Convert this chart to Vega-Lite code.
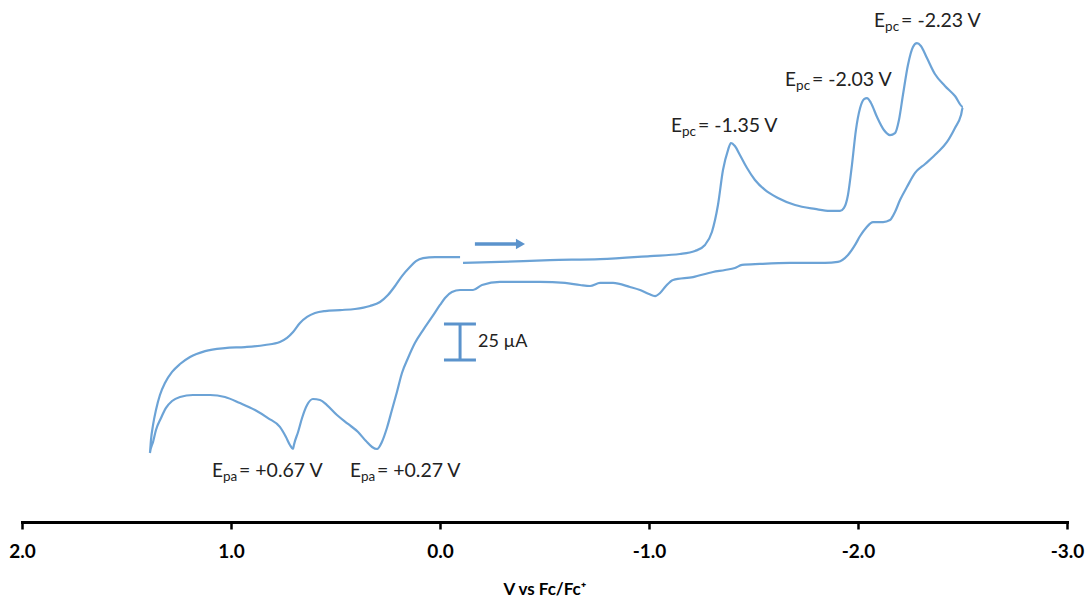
{
  "$schema": "https://vega.github.io/schema/vega-lite/v6.json",
  "autosize": {"type": "none"},
  "width": 1045,
  "height": 522,
  "padding": {"left": 22, "top": 0, "right": 19, "bottom": 76},
  "background": "white",
  "config": {"view": {"stroke": null}, "font": "Lato"},
  "datasets": {
    "cv": [
      {"k":1,"potential":-0.110,"current":179.9},{"k":2,"potential":-0.287,"current":180.6},{"k":3,"potential":-0.526,"current":181.9},{"k":4,"potential":-0.766,"current":182.6},{"k":5,"potential":-1.005,"current":184.7},{"k":6,"potential":-1.148,"current":186.1},{"k":7,"potential":-1.220,"current":188.2},{"k":8,"potential":-1.268,"current":192.4},{"k":9,"potential":-1.301,"current":201.4},{"k":10,"potential":-1.330,"current":220.1},{"k":11,"potential":-1.354,"current":244.4},{"k":12,"potential":-1.378,"current":258.3},{"k":13,"potential":-1.392,"current":263.2},{"k":14,"potential":-1.411,"current":261.1},{"k":15,"potential":-1.435,"current":254.9},{"k":16,"potential":-1.469,"current":245.8},{"k":17,"potential":-1.507,"current":237.5},{"k":18,"potential":-1.555,"current":230.6},{"k":19,"potential":-1.617,"current":225.0},{"k":20,"potential":-1.699,"current":220.1},{"k":21,"potential":-1.794,"current":217.4},{"k":22,"potential":-1.866,"current":216.0},{"k":23,"potential":-1.914,"current":216.0},{"k":24,"potential":-1.933,"current":218.1},{"k":25,"potential":-1.952,"current":227.1},{"k":26,"potential":-1.971,"current":247.9},{"k":27,"potential":-1.990,"current":272.2},{"k":28,"potential":-2.010,"current":287.5},{"k":29,"potential":-2.029,"current":293.7},{"k":30,"potential":-2.043,"current":294.4},{"k":31,"potential":-2.062,"current":291.0},{"k":32,"potential":-2.091,"current":281.2},{"k":33,"potential":-2.124,"current":272.2},{"k":34,"potential":-2.153,"current":268.7},{"k":35,"potential":-2.177,"current":270.1},{"k":36,"potential":-2.196,"current":279.2},{"k":37,"potential":-2.215,"current":296.5},{"k":38,"potential":-2.239,"current":317.4},{"k":39,"potential":-2.263,"current":329.9},{"k":40,"potential":-2.282,"current":332.6},{"k":41,"potential":-2.301,"current":330.6},{"k":42,"potential":-2.330,"current":322.2},{"k":43,"potential":-2.368,"current":311.1},{"k":44,"potential":-2.416,"current":302.8},{"k":45,"potential":-2.464,"current":295.8},{"k":46,"potential":-2.502,"current":288.2},
      {"k":47,"potential":-2.493,"current":282.6},{"k":48,"potential":-2.464,"current":273.6},{"k":49,"potential":-2.426,"current":263.9},{"k":50,"potential":-2.378,"current":256.2},{"k":51,"potential":-2.321,"current":248.6},{"k":52,"potential":-2.273,"current":242.4},{"k":53,"potential":-2.234,"current":232.6},{"k":54,"potential":-2.201,"current":223.6},{"k":55,"potential":-2.177,"current":215.3},{"k":56,"potential":-2.153,"current":209.7},{"k":57,"potential":-2.120,"current":208.3},{"k":58,"potential":-2.072,"current":208.3},{"k":59,"potential":-2.038,"current":204.2},{"k":60,"potential":-2.010,"current":198.6},{"k":61,"potential":-1.986,"current":192.4},{"k":62,"potential":-1.952,"current":185.4},{"k":63,"potential":-1.904,"current":180.6},{"k":64,"potential":-1.842,"current":179.9},{"k":65,"potential":-1.675,"current":179.9},{"k":66,"potential":-1.531,"current":179.2},{"k":67,"potential":-1.445,"current":178.5},{"k":68,"potential":-1.411,"current":176.4},{"k":69,"potential":-1.364,"current":175.0},{"k":70,"potential":-1.306,"current":173.6},{"k":71,"potential":-1.211,"current":170.1},{"k":72,"potential":-1.115,"current":168.1},{"k":73,"potential":-1.081,"current":163.9},{"k":74,"potential":-1.053,"current":159.0},{"k":75,"potential":-1.029,"current":156.9},{"k":76,"potential":-1.000,"current":158.3},{"k":77,"potential":-0.957,"current":161.1},{"k":78,"potential":-0.909,"current":163.2},{"k":79,"potential":-0.828,"current":166.0},{"k":80,"potential":-0.766,"current":166.0},{"k":81,"potential":-0.718,"current":163.9},{"k":82,"potential":-0.670,"current":164.6},{"k":83,"potential":-0.598,"current":166.0},{"k":84,"potential":-0.478,"current":166.7},{"k":85,"potential":-0.287,"current":166.7},{"k":86,"potential":-0.201,"current":164.6},{"k":87,"potential":-0.158,"current":161.1},{"k":88,"potential":-0.096,"current":161.1},{"k":89,"potential":-0.057,"current":159.7},{"k":90,"potential":-0.024,"current":155.6},{"k":91,"potential":0.000,"current":150.7},{"k":92,"potential":0.038,"current":142.4},{"k":93,"potential":0.081,"current":133.3},{"k":94,"potential":0.120,"current":124.3},{"k":95,"potential":0.153,"current":113.9},{"k":96,"potential":0.182,"current":103.5},{"k":97,"potential":0.206,"current":90.3},{"k":98,"potential":0.230,"current":77.8},{"k":99,"potential":0.254,"current":65.3},{"k":100,"potential":0.278,"current":55.6},{"k":101,"potential":0.301,"current":50.7},{"k":102,"potential":0.325,"current":52.1},{"k":103,"potential":0.354,"current":56.2},{"k":104,"potential":0.392,"current":62.5},{"k":105,"potential":0.440,"current":68.1},{"k":106,"potential":0.493,"current":74.3},{"k":107,"potential":0.541,"current":81.2},{"k":108,"potential":0.574,"current":84.7},{"k":109,"potential":0.608,"current":85.4},{"k":110,"potential":0.636,"current":81.2},{"k":111,"potential":0.660,"current":72.2},{"k":112,"potential":0.679,"current":62.5},{"k":113,"potential":0.699,"current":53.5},{"k":114,"potential":0.703,"current":50.7},{"k":115,"potential":0.718,"current":53.5},{"k":116,"potential":0.737,"current":59.0},{"k":117,"potential":0.766,"current":66.0},{"k":118,"potential":0.823,"current":72.2},{"k":119,"potential":0.885,"current":77.8},{"k":120,"potential":0.957,"current":82.6},{"k":121,"potential":1.029,"current":86.8},{"k":122,"potential":1.100,"current":88.2},{"k":123,"potential":1.182,"current":88.2},{"k":124,"potential":1.244,"current":86.8},{"k":125,"potential":1.282,"current":84.0},{"k":126,"potential":1.311,"current":79.2},{"k":127,"potential":1.335,"current":72.2},{"k":128,"potential":1.359,"current":63.9},{"k":129,"potential":1.373,"current":55.6},{"k":130,"potential":1.388,"current":47.9},
      {"k":131,"potential":1.383,"current":56.9},{"k":132,"potential":1.373,"current":67.4},{"k":133,"potential":1.359,"current":77.8},{"k":134,"potential":1.340,"current":88.2},{"k":135,"potential":1.316,"current":96.5},{"k":136,"potential":1.282,"current":104.2},{"k":137,"potential":1.244,"current":109.7},{"k":138,"potential":1.196,"current":114.6},{"k":139,"potential":1.124,"current":118.7},{"k":140,"potential":1.029,"current":120.8},{"k":141,"potential":0.933,"current":121.5},{"k":142,"potential":0.837,"current":122.9},{"k":143,"potential":0.766,"current":125.0},{"k":144,"potential":0.732,"current":127.8},{"k":145,"potential":0.703,"current":131.9},{"k":146,"potential":0.670,"current":138.2},{"k":147,"potential":0.636,"current":142.4},{"k":148,"potential":0.598,"current":145.1},{"k":149,"potential":0.550,"current":146.5},{"k":150,"potential":0.478,"current":147.2},{"k":151,"potential":0.407,"current":147.9},{"k":152,"potential":0.335,"current":150.0},{"k":153,"potential":0.287,"current":152.8},{"k":154,"potential":0.249,"current":157.6},{"k":155,"potential":0.215,"current":163.9},{"k":156,"potential":0.182,"current":170.8},{"k":157,"potential":0.144,"current":177.1},{"k":158,"potential":0.115,"current":181.2},{"k":159,"potential":0.081,"current":183.3},{"k":160,"potential":0.024,"current":184.0},{"k":161,"potential":-0.096,"current":184.0}
    ],
    "labels": [
      {"potential":-2.077,"current":343.7,"sub":"pc","rest":" = -2.23 V"},
      {"potential":-1.651,"current":302.8,"sub":"pc","rest":" = -2.03 V"},
      {"potential":-1.105,"current":270.8,"sub":"pc","rest":" = -1.35 V"},
      {"potential":1.091,"current":31.2,"sub":"pa","rest":" = +0.67 V"},
      {"potential":0.431,"current":31.2,"sub":"pa","rest":" = +0.27 V"}
    ],
    "bar": [
      {"x1":-0.096,"x2":-0.096,"y1":112.5,"y2":137.5},
      {"x1":-0.019,"x2":-0.172,"y1":137.5,"y2":137.5},
      {"x1":-0.019,"x2":-0.172,"y1":112.5,"y2":112.5}
    ],
    "arrow": [{"x1":-0.167,"x2":-0.37,"tip":-0.385,"current":193.1}],
    "barlabel": [{"potential":-0.182,"current":125.0,"text":"25 µA"}]
  },
  "layer": [
    {
      "data": {"name": "cv"},
      "mark": {"type": "line", "color": "#6CA3D6", "strokeWidth": 2.2, "interpolate": "monotone"},
      "encoding": {
        "x": {"field": "potential", "type": "quantitative",
              "scale": {"domain": [-3, 2], "reverse": true, "nice": false, "zero": false},
              "axis": {"values": [2, 1, 0, -1, -2, -3],
                       "labelExpr": "replace(format(datum.value, '.1f'), '\u2212', '-')",
                       "title": "V vs Fc/Fc\u207a",
                       "domainColor": "#000", "domainWidth": 3, "domainCap": "square",
                       "tickColor": "#000", "tickWidth": 2.5, "tickSize": 7,
                       "labelFont": "Lato", "labelFontWeight": "bold", "labelFontSize": 19, "labelColor": "#000",
                       "labelPadding": 13, "labelFlush": false,
                       "titleFont": "Lato", "titleFontWeight": "bold", "titleFontSize": 17, "titleColor": "#000",
                       "titlePadding": 20, "grid": false}},
        "y": {"field": "current", "type": "quantitative",
              "scale": {"domain": [0, 362.5], "nice": false, "zero": false}, "axis": null},
        "order": {"field": "k", "type": "quantitative"}
      }
    },
    {
      "data": {"name": "arrow"},
      "mark": {"type": "rule", "color": "#5B93CC", "strokeWidth": 3.5},
      "encoding": {
        "x": {"field": "x1", "type": "quantitative", "scale": {"domain": [-3, 2], "reverse": true, "nice": false, "zero": false}},
        "x2": {"field": "x2"},
        "y": {"field": "current", "type": "quantitative", "scale": {"domain": [0, 362.5], "nice": false, "zero": false}}
      }
    },
    {
      "data": {"name": "arrow"},
      "mark": {"type": "point", "shape": "triangle-right", "filled": true, "color": "#5B93CC", "size": 110, "opacity": 1},
      "encoding": {
        "x": {"field": "tip", "type": "quantitative", "scale": {"domain": [-3, 2], "reverse": true, "nice": false, "zero": false}},
        "y": {"field": "current", "type": "quantitative", "scale": {"domain": [0, 362.5], "nice": false, "zero": false}}
      }
    },
    {
      "data": {"name": "bar"},
      "mark": {"type": "rule", "color": "#5B93CC", "strokeWidth": 3},
      "encoding": {
        "x": {"field": "x1", "type": "quantitative", "scale": {"domain": [-3, 2], "reverse": true, "nice": false, "zero": false}},
        "x2": {"field": "x2"},
        "y": {"field": "y1", "type": "quantitative", "scale": {"domain": [0, 362.5], "nice": false, "zero": false}},
        "y2": {"field": "y2"}
      }
    },
    {
      "data": {"name": "barlabel"},
      "mark": {"type": "text", "align": "left", "baseline": "middle", "fontSize": 18, "font": "Lato", "color": "#222"},
      "encoding": {
        "x": {"field": "potential", "type": "quantitative", "scale": {"domain": [-3, 2], "reverse": true, "nice": false, "zero": false}},
        "y": {"field": "current", "type": "quantitative", "scale": {"domain": [0, 362.5], "nice": false, "zero": false}},
        "text": {"field": "text"}
      }
    },
    {
      "data": {"name": "labels"},
      "mark": {"type": "text", "align": "left", "baseline": "alphabetic", "fontSize": 19, "font": "Lato", "color": "#222", "text": "E"},
      "encoding": {
        "x": {"field": "potential", "type": "quantitative", "scale": {"domain": [-3, 2], "reverse": true, "nice": false, "zero": false}},
        "y": {"field": "current", "type": "quantitative", "scale": {"domain": [0, 362.5], "nice": false, "zero": false}}
      }
    },
    {
      "data": {"name": "labels"},
      "mark": {"type": "text", "align": "left", "baseline": "alphabetic", "fontSize": 13.5, "font": "Lato", "color": "#222", "dx": 11, "dy": 4},
      "encoding": {
        "x": {"field": "potential", "type": "quantitative", "scale": {"domain": [-3, 2], "reverse": true, "nice": false, "zero": false}},
        "y": {"field": "current", "type": "quantitative", "scale": {"domain": [0, 362.5], "nice": false, "zero": false}},
        "text": {"field": "sub"}
      }
    },
    {
      "data": {"name": "labels"},
      "mark": {"type": "text", "align": "left", "baseline": "alphabetic", "fontSize": 19.5, "font": "Lato", "color": "#222", "dx": 27},
      "encoding": {
        "x": {"field": "potential", "type": "quantitative", "scale": {"domain": [-3, 2], "reverse": true, "nice": false, "zero": false}},
        "y": {"field": "current", "type": "quantitative", "scale": {"domain": [0, 362.5], "nice": false, "zero": false}},
        "text": {"field": "rest"}
      }
    }
  ]
}
